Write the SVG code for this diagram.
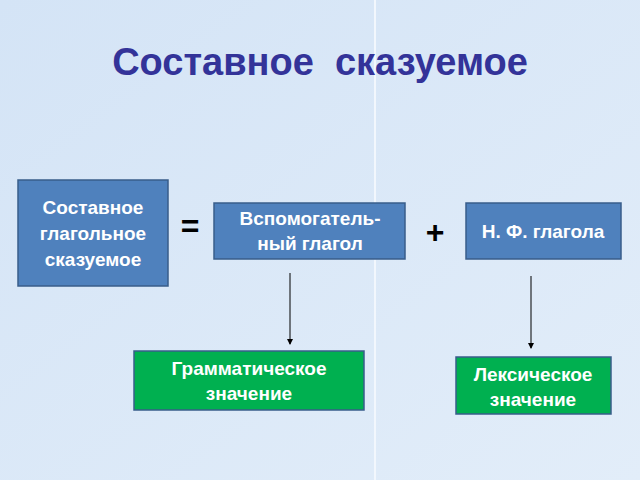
<svg xmlns="http://www.w3.org/2000/svg" width="640" height="480" viewBox="0 0 640 480">
<style>
.b{fill:#4f81bd;stroke:#385d8a;stroke-width:1.5}
.g{fill:#00b050;stroke:#385d8a;stroke-width:1.5}
.t{font-family:"Liberation Sans",Arial,sans-serif;font-weight:bold;font-size:19px;fill:#fff;text-anchor:middle}
.c{stroke:#000;stroke-width:1;fill:none}
</style>
<defs>
<marker id="a" viewBox="0 0 6 6" refX="5" refY="3" markerWidth="6" markerHeight="6" orient="auto"><path d="M0,0L6,3L0,6z" fill="#000"/></marker>
<linearGradient id="bg" x1="0" y1="0" x2="1" y2="1"><stop offset="0" stop-color="#d4e4f6"/><stop offset="1" stop-color="#e2edf9"/></linearGradient>
</defs>
<rect width="640" height="480" fill="url(#bg)"/>
<line x1="375" y1="0" x2="375" y2="480" stroke="#f2f7fd" stroke-width="2"/>
<text x="320" y="75" font-family="Liberation Sans,Arial,sans-serif" font-weight="bold" font-size="38" fill="#333399" text-anchor="middle" xml:space="preserve">Составное  сказуемое</text>
<g id="n1"><rect class="b" x="18" y="180" width="150" height="106"/><text class="t" x="93" y="214">Составное</text><text class="t" x="93" y="240">глагольное</text><text class="t" x="93" y="266">сказуемое</text></g>
<text x="190" y="237" font-family="Liberation Sans,Arial,sans-serif" font-weight="bold" font-size="32" fill="#000" text-anchor="middle">=</text>
<g id="n2"><rect class="b" x="214" y="203" width="191" height="56"/><text class="t" x="310" y="225">Вспомогатель-</text><text class="t" x="310" y="250">ный глагол</text></g>
<text x="435" y="243" font-family="Liberation Sans,Arial,sans-serif" font-weight="bold" font-size="32" fill="#000" text-anchor="middle">+</text>
<g id="n3"><rect class="b" x="466" y="203" width="155" height="56"/><text class="t" x="543" y="238">Н. Ф. глагола</text></g>
<g id="n4"><rect class="g" x="134" y="351" width="230" height="59"/><text class="t" x="249" y="375">Грамматическое</text><text class="t" x="249" y="400">значение</text></g>
<g id="n5"><rect class="g" x="456" y="357" width="155" height="57"/><text class="t" x="533" y="381">Лексическое</text><text class="t" x="533" y="406">значение</text></g>
<g id="connectors"><line class="c" x1="290" y1="273" x2="290" y2="344" marker-end="url(#a)"/><line class="c" x1="531" y1="276" x2="531" y2="348" marker-end="url(#a)"/></g>
</svg>
